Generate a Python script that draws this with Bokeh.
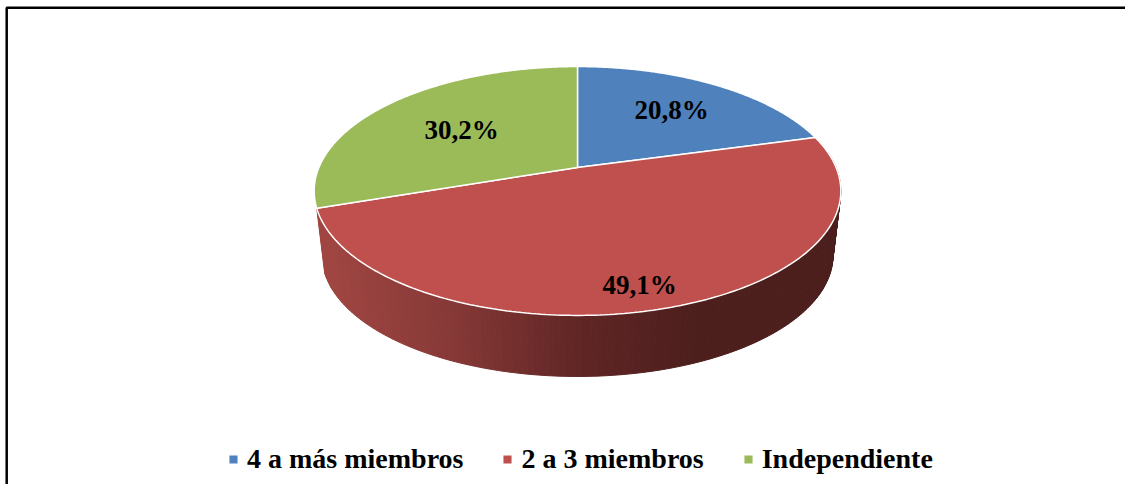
import numpy as np
from bokeh.core.properties import value
from bokeh.embed import file_html
from bokeh.models import Legend, LegendItem, Range1d
from bokeh.plotting import figure
from bokeh.resources import INLINE

categories = ["4 a más miembros", "2 a 3 miembros", "Independiente"]
shares = [20.8, 49.1, 30.2]
share_labels = ["20,8%", "49,1%", "30,2%"]
colors = ["#4F81BD", "#C0504D", "#9BBB59"]

# layout of the tilted pie, screen pixels
CX, TOP_Y0, TOP_H, TOP_K, PERSP = 577, 167, 120, 258.6, 0.1887
LOW_Y0, LOW_H, LOW_K = 232.5, 116.4, 250.8
LABEL_XY = [(671, 109), (639, 284), (461, 129)]


def project(theta, y0, h, k):
    X, Y = np.sin(theta), np.cos(theta)
    w = 1 + PERSP * Y
    return CX + k * X / w, y0 - h * Y / w


total = sum(shares)
edges = np.cumsum([0] + shares) / total * 2 * np.pi

p = figure(width=1125, height=484, output_backend="svg", toolbar_location=None,
           x_range=Range1d(0, 1125), y_range=Range1d(484, 0), min_border=0,
           x_axis_type=None, y_axis_type=None, outline_line_color=None,
           background_fill_color="white", border_fill_color="white")
p.grid.visible = False

# frame of the picture (left and top only)
p.line([6.2, 6.2, 1125], [484, 7.2, 7.2], line_color="black", line_width=2.5)

# side wall of the red slice: shaded strips
stops_x = [316, 450, 580, 700, 840]
stops_rgb = np.array([[162, 71, 67], [134, 57, 55], [96, 38, 37], [76, 31, 29], [76, 31, 29]])
side_t = np.linspace(edges[1], edges[2], 180)
sx, sy, sc = [], [], []
for a, b in zip(side_t[:-1], side_t[1:]):
    ax, ay = project(a, TOP_Y0, TOP_H, TOP_K)
    bx, by = project(b, TOP_Y0, TOP_H, TOP_K)
    cx, cy = project(b, LOW_Y0, LOW_H, LOW_K)
    dx, dy = project(a, LOW_Y0, LOW_H, LOW_K)
    sx.append([ax, bx, cx, dx])
    sy.append([ay, by, cy, dy])
    mid = (ax + bx) / 2
    rgb = [int(np.interp(mid, stops_x, stops_rgb[:, i])) for i in range(3)]
    sc.append("#%02x%02x%02x" % tuple(rgb))
p.patches(sx, sy, fill_color=sc, line_color=sc, line_width=1)

# top face
renderers = []
for i in range(len(shares)):
    t = np.linspace(edges[i], edges[i + 1], 200)
    x, y = project(t, TOP_Y0, TOP_H, TOP_K)
    x = np.r_[CX, x]
    y = np.r_[TOP_Y0, y]
    renderers.append(p.patch(x, y, fill_color=colors[i], line_color="white", line_width=1.5))

p.text([q[0] for q in LABEL_XY], [q[1] for q in LABEL_XY], text=share_labels,
       text_font=value("Liberation Serif"), text_font_style="bold", text_font_size="27px",
       text_color="black", text_align="center", text_baseline="middle")

legend = Legend(items=[LegendItem(label=c, renderers=[r]) for c, r in zip(categories, renderers)],
                orientation="horizontal", location=(227, 9), glyph_width=12, glyph_height=12,
                label_standoff=8, spacing=38, padding=0, margin=0, border_line_color=None,
                background_fill_alpha=0, label_text_font="Liberation Serif",
                label_text_font_style="bold", label_text_font_size="28px",
                label_text_color="black")
p.add_layout(legend, "center")

open("out.html", "w").write(file_html(p, INLINE))
